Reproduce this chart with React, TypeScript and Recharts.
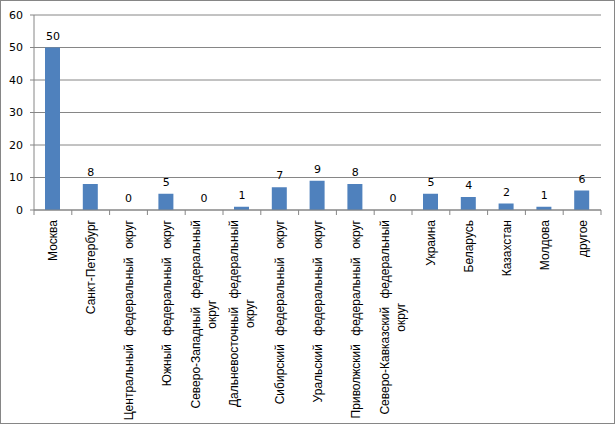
import React from 'react';
import { Bar, ComposedChart, CartesianGrid, LabelList, Line, XAxis, YAxis } from 'recharts';

const categories = [
  'Москва',
  'Санкт-Петербург',
  'Центральный федеральный округ',
  'Южный федеральный округ',
  'Северо-Западный федеральный\nокруг',
  'Дальневосточный федеральный\nокруг',
  'Сибирский федеральный округ',
  'Уральский федеральный округ',
  'Приволжский федеральный округ',
  'Северо-Кавказский федеральный\nокруг',
  'Украина',
  'Беларусь',
  'Казахстан',
  'Молдова',
  'другое'
];
const values = [50, 8, 0, 5, 0, 1, 7, 9, 8, 0, 5, 4, 2, 1, 6];
const yTicks = [0, 10, 20, 30, 40, 50, 60];

const data = categories.map((name, i) => ({ name, value: values[i] }));

const W = 616;
const H = 425;
const margin = { top: 15, right: 15, bottom: 0, left: 0 };
const yAxisWidth = 34;
const band = (W - margin.left - margin.right - yAxisWidth) / categories.length;
const grey = '#868686';
const labelFamily = "'Liberation Sans', Arial, sans-serif";
const numFamily = "'DejaVu Sans', Verdana, sans-serif";
const wordGap = 5;

let ctx: CanvasRenderingContext2D | null = null;
const measure = (s: string) => {
  const spaces = (s.match(/ /g) || []).length * wordGap;
  if (!ctx) ctx = document.createElement('canvas').getContext('2d');
  if (!ctx) return s.length * 6.3 + spaces;
  ctx.font = "12px 'Liberation Sans'";
  return ctx.measureText(s).width + spaces;
};

// excel-style: tick marks between categories, labels turned up
const CategoryTick = (props: any) => {
  const { x, y, payload, index } = props;
  const lines = String(payload.value).split('\n');
  const first = measure(lines[0]);
  const gap = 10;
  const offsets = lines.length === 1 ? [4.5] : [-4, 12];
  return (
    <g>
      <line x1={x - band / 2} x2={x - band / 2} y1={y} y2={y + 5} stroke={grey} />
      {index === categories.length - 1 && (
        <line x1={x + band / 2} x2={x + band / 2} y1={y} y2={y + 5} stroke={grey} />
      )}
      <g transform={`translate(${x},${y}) rotate(-90)`}>
        {lines.map((line, i) => (
          <text
            key={i}
            x={i === 0 ? -gap : -gap - first / 2}
            y={offsets[i]}
            textAnchor={i === 0 ? 'end' : 'middle'}
            fontFamily={labelFamily}
            fontSize={12}
            wordSpacing={wordGap}
            fill='#000'
          >
            {line}
          </text>
        ))}
      </g>
    </g>
  );
};

export default function App() {
  return (
    <div style={{ position: 'absolute', left: 0, top: 0, width: W, height: H, background: '#fff' }}>
      <ComposedChart width={W} height={H} data={data} margin={margin}>
        <CartesianGrid vertical={false} stroke={grey} />
        <XAxis
          dataKey='name'
          interval={0}
          height={H - 210}
          tickLine={false}
          tickSize={0}
          tickMargin={0}
          stroke={grey}
          tick={<CategoryTick />}
        />
        <YAxis
          width={yAxisWidth}
          domain={[0, 60]}
          ticks={yTicks}
          tickSize={4}
          tickMargin={7}
          stroke={grey}
          tick={{ fill: '#000', fontSize: 11, fontFamily: numFamily }}
        />
        <Bar dataKey='value' fill='#4F81BD' barSize={15} isAnimationActive={false} />
        {/* labels on an invisible line so zero values get one too */}
        <Line dataKey='value' stroke='none' dot={false} activeDot={false} isAnimationActive={false}>
          <LabelList
            dataKey='value'
            position='top'
            offset={8}
            fill='#000'
            fontSize={11}
            fontFamily={numFamily}
          />
        </Line>
      </ComposedChart>
      <div
        style={{
          position: 'absolute',
          left: 0,
          top: 0,
          width: W - 1,
          height: H - 1,
          boxSizing: 'border-box',
          border: `1px solid ${grey}`,
          pointerEvents: 'none'
        }}
      />
    </div>
  );
}
